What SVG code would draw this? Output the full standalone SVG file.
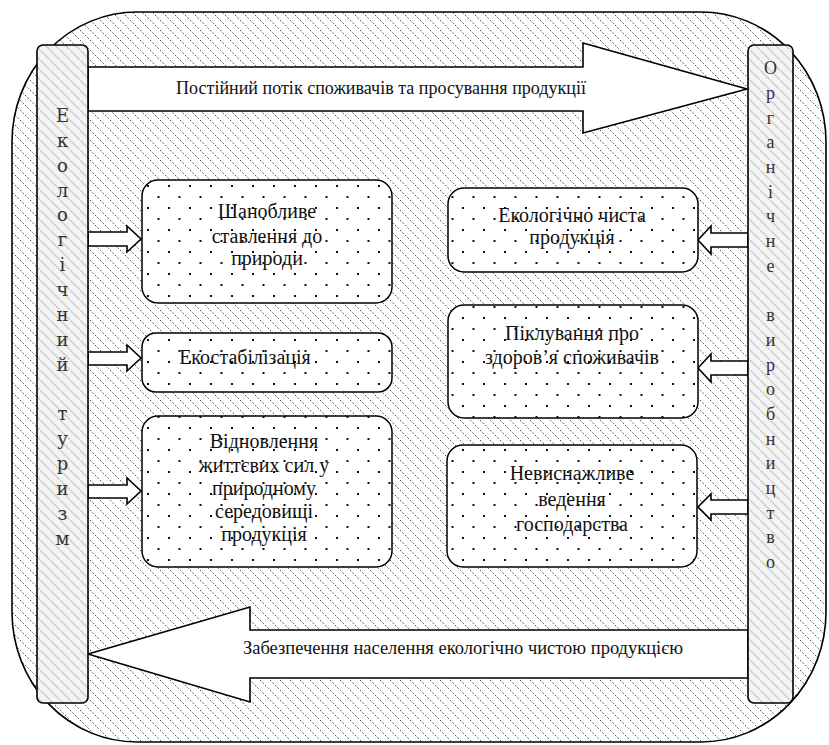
<svg xmlns="http://www.w3.org/2000/svg" width="829" height="745" viewBox="0 0 829 745">
<style>
.box{fill:url(#dots);stroke:#000;stroke-width:1.5}
.bar{fill:url(#hatchLight);stroke:#000;stroke-width:1.6}
.arr{fill:#fff;stroke:#000;stroke-width:1.6;stroke-linejoin:miter}
.t{font-size:20px;fill:#111;text-anchor:middle}
.at{font-size:18px;fill:#111;text-anchor:middle}
.v{font-size:18px;fill:#333;text-anchor:middle}
</style>
<defs>
<pattern id="hatch" patternUnits="userSpaceOnUse" width="10" height="10">
<rect width="10" height="10" fill="#fff"/>
<line x1="0" y1="0" x2="10" y2="10" stroke="#555" stroke-width="1" stroke-dasharray="1.8 1.735"/>
</pattern>
<pattern id="hatchLight" patternUnits="userSpaceOnUse" width="10" height="10">
<rect width="10" height="10" fill="#f4f4f4"/>
<line x1="0" y1="0" x2="10" y2="10" stroke="#d2d2d2" stroke-width="1.6"/>
</pattern>
<pattern id="dots" patternUnits="userSpaceOnUse" width="21" height="22" x="142" y="180">
<rect width="21" height="22" fill="#fff"/>
<rect x="5" y="5" width="2" height="2" fill="#111"/>
<rect x="15.5" y="16" width="2" height="2" fill="#111"/>
</pattern>
</defs>

<g id="background">
<rect x="12" y="12" width="814" height="730" rx="125" ry="130" fill="url(#hatch)" stroke="#000" stroke-width="1.6"/>
</g>

<g id="connectors">
<polygon class="arr" points="88,67 583,67 583,43 747,89 583,133 583,111 88,111"/>
<polygon class="arr" points="748,630 250,630 250,607 88,654 250,702 250,678 748,678"/>
<polygon class="arr" points="88,232 127,232 127,226 141,239 127,252 127,246 88,246"/>
<polygon class="arr" points="88,352 127,352 127,345 141,358 127,371 127,365 88,365"/>
<polygon class="arr" points="88,485 127,485 127,478 141,491 127,504 127,498 88,498"/>
<polygon class="arr" points="748,233 711,233 711,226 698,240 711,254 711,247 748,247"/>
<polygon class="arr" points="748,361 711,361 711,354 698,368 711,382 711,375 748,375"/>
<polygon class="arr" points="748,500 711,500 711,494 698,507 711,520 711,514 748,514"/>
</g>

<g id="flow-top" font-family="Liberation Serif, serif">
<text class="at" x="381" y="94" textLength="410" lengthAdjust="spacingAndGlyphs">Постійний потік споживачів та просування продукції</text>
</g>
<g id="flow-bottom" font-family="Liberation Serif, serif">
<text class="at" x="463" y="654" textLength="440" lengthAdjust="spacingAndGlyphs">Забезпечення населення екологічно чистою продукцією</text>
</g>

<g id="eco-tourism" font-family="DejaVu Serif, serif">
<rect class="bar" x="37" y="45" width="51" height="658" rx="6"/>
<text class="v" x="62.5" y="122">Е</text>
<text class="v" x="62.5" y="147">к</text>
<text class="v" x="62.5" y="172">о</text>
<text class="v" x="62.5" y="197">л</text>
<text class="v" x="62.5" y="221">о</text>
<text class="v" x="62.5" y="246">г</text>
<text class="v" x="62.5" y="271">і</text>
<text class="v" x="62.5" y="296">ч</text>
<text class="v" x="62.5" y="321">н</text>
<text class="v" x="62.5" y="346">и</text>
<text class="v" x="62.5" y="371">й</text>
<text class="v" x="62.5" y="420">т</text>
<text class="v" x="62.5" y="445">у</text>
<text class="v" x="62.5" y="470">р</text>
<text class="v" x="62.5" y="495">и</text>
<text class="v" x="62.5" y="520">з</text>
<text class="v" x="62.5" y="545">м</text>
</g>

<g id="organic-production" font-family="Liberation Serif">
<rect class="bar" x="748" y="45" width="45" height="658" rx="6"/>
<text class="v" x="770.5" y="74">О</text>
<text class="v" x="770.5" y="99">р</text>
<text class="v" x="770.5" y="124">г</text>
<text class="v" x="770.5" y="148">а</text>
<text class="v" x="770.5" y="173">н</text>
<text class="v" x="770.5" y="198">і</text>
<text class="v" x="770.5" y="222">ч</text>
<text class="v" x="770.5" y="247">н</text>
<text class="v" x="770.5" y="272">е</text>
<text class="v" x="770.5" y="321">в</text>
<text class="v" x="770.5" y="346">и</text>
<text class="v" x="770.5" y="371">р</text>
<text class="v" x="770.5" y="395">о</text>
<text class="v" x="770.5" y="420">б</text>
<text class="v" x="770.5" y="445">н</text>
<text class="v" x="770.5" y="469">и</text>
<text class="v" x="770.5" y="494">ц</text>
<text class="v" x="770.5" y="519">т</text>
<text class="v" x="770.5" y="543">в</text>
<text class="v" x="770.5" y="568">о</text>
</g>

<g font-family="Liberation Serif, Times New Roman, serif">
<g id="box-respect">
<rect class="box" x="142" y="180" width="250" height="123" rx="16"/>
<text class="t" x="267" y="218">Шанобливе</text>
<text class="t" x="267" y="243">ставлення до</text>
<text class="t" x="267" y="265">природи</text>
</g>

<g id="box-ecostab">
<rect class="box" x="142" y="333" width="250" height="59" rx="14"/>
<text class="t" x="245" y="364">Екостабілізація</text>
</g>

<g id="box-restore">
<rect class="box" x="142" y="416" width="250" height="151" rx="16"/>
<text class="t" x="264" y="448">Відновлення</text>
<text class="t" x="264" y="472">життєвих сил у</text>
<text class="t" x="264" y="495">природному</text>
<text class="t" x="264" y="518">середовищі</text>
<text class="t" x="264" y="541">продукція</text>
</g>

<g id="box-clean">
<rect class="box" x="448" y="188" width="250" height="84" rx="16"/>
<text class="t" x="572" y="222">Екологічно чиста</text>
<text class="t" x="572" y="244">продукція</text>
</g>

<g id="box-health">
<rect class="box" x="448" y="305" width="250" height="113" rx="16"/>
<text class="t" x="572" y="340">Піклування про</text>
<text class="t" x="572" y="364">здоров’я споживачів</text>
</g>

<g id="box-sustain">
<rect class="box" x="447" y="445" width="250" height="122" rx="16"/>
<text class="t" x="572" y="480">Невиснажливе</text>
<text class="t" x="572" y="506">ведення</text>
<text class="t" x="572" y="531">господарства</text>
</g>
</g>
</svg>
